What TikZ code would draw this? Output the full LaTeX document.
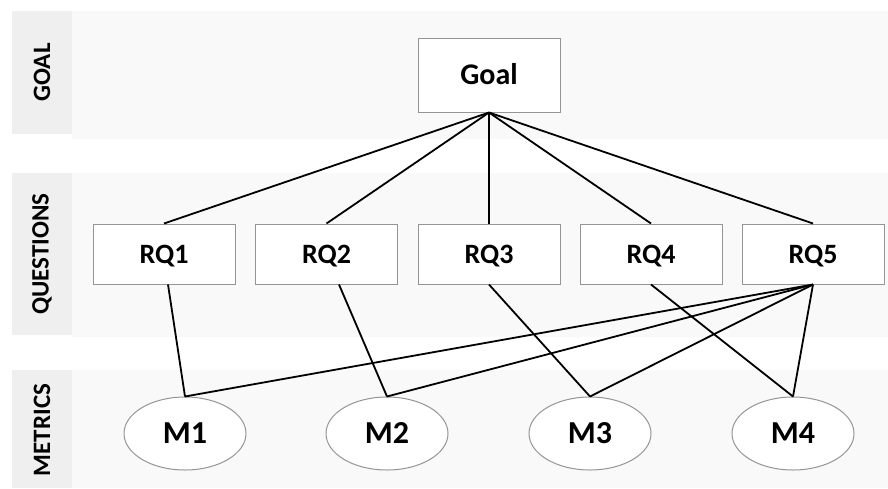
\documentclass[tikz,border=0pt]{standalone}
\usepackage{fontspec}
\setmainfont{Carlito}
\usetikzlibrary{shapes.geometric}
\definecolor{labelbg}{HTML}{EFEFEF}
\definecolor{bandbg}{HTML}{F9F9F9}
\definecolor{edgegray}{HTML}{959595}
\begin{document}
\begin{tikzpicture}[x=1pt,y=-1pt,
  bandlabel/.style={rotate=90,font=\bfseries\fontsize{25}{30}\selectfont,text=black},
  goalbox/.style={draw=edgegray,fill=white,line width=1pt,minimum width=142pt,minimum height=74pt,inner sep=0pt,text height=19.3pt,text depth=0pt,font=\bfseries\fontsize{30}{36}\selectfont},
  qbox/.style={draw=edgegray,fill=white,line width=1pt,minimum width=142pt,minimum height=60pt,inner sep=0pt,text height=18pt,text depth=0pt,font=\bfseries\fontsize{28}{34}\selectfont},
  mell/.style={ellipse,draw=edgegray,fill=white,line width=1pt,minimum width=122pt,minimum height=73pt,inner sep=0pt,text height=20.6pt,text depth=0pt,font=\bfseries\fontsize{32}{38}\selectfont},
  link/.style={draw=black,line width=1.8pt}]
\useasboundingbox (0,0) rectangle (888,488);
\fill[white] (0,0) rectangle (888,488);
% bands
\fill[bandbg] (72,11) rectangle (888,139);
\fill[bandbg] (72,173) rectangle (888,337);
\fill[bandbg] (72,370) rectangle (888,488);
\fill[labelbg] (12,11) rectangle (72,134);
\fill[labelbg] (12,173) rectangle (72,335);
\fill[labelbg] (12,370) rectangle (72,488);
\node[bandlabel] (lgoal) at (42,72.5) {GOAL};
\node[bandlabel] (lq) at (42,254) {QUESTIONS};
\node[bandlabel] (lm) at (42,430) {METRICS};
% nodes
\node[goalbox] (goal) at (489,75) {Goal};
\node[qbox] (rq1) at (164,254) {RQ1};
\node[qbox] (rq2) at (326.5,254) {RQ2};
\node[qbox] (rq3) at (489,254) {RQ3};
\node[qbox] (rq4) at (651,254) {RQ4};
\node[qbox] (rq5) at (813,254) {RQ5};
\node[mell] (m1) at (185,433.5) {M1};
\node[mell] (m2) at (387,433.5) {M2};
\node[mell] (m3) at (590,433.5) {M3};
\node[mell] (m4) at (793,433.5) {M4};
% connectors
\foreach \q in {rq1,rq2,rq3,rq4,rq5}{\draw[link] (goal.south) -- (\q.north);}
\draw[link] ([xshift=4pt]rq1.south) -- (m1.north);
\draw[link] ([xshift=12.5pt]rq2.south) -- (m2.north);
\draw[link] (rq3.south) -- (m3.north);
\draw[link] (rq4.south) -- (m4.north);
\foreach \m in {m1,m2,m3,m4}{\draw[link] (rq5.south) -- (\m.north);}
\end{tikzpicture}
\end{document}
